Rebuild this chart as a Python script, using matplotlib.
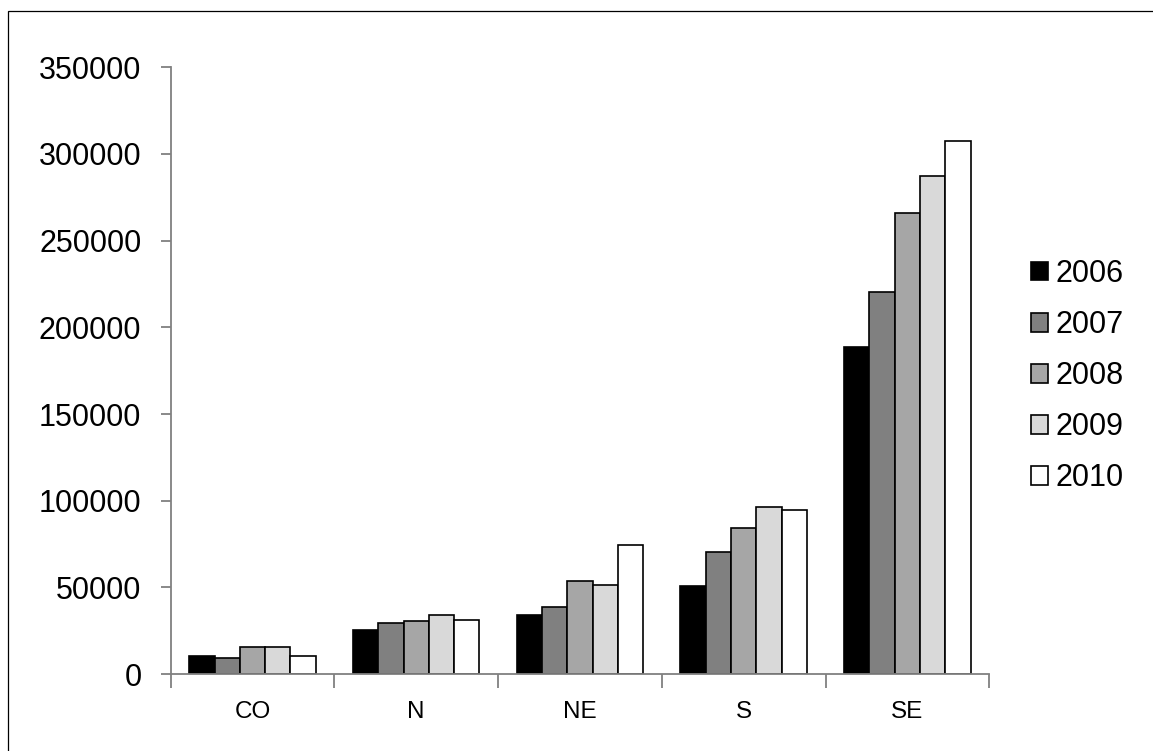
import matplotlib
matplotlib.use("Agg")
import matplotlib.pyplot as plt
import numpy as np
from matplotlib.patches import Rectangle

regions = ["CO", "N", "NE", "S", "SE"]
years = ["2006", "2007", "2008", "2009", "2010"]
v2006 = [10400, 25500, 34200, 50800, 188500]
v2007 = [9200, 29400, 38800, 70200, 220200]
v2008 = [15600, 30600, 53800, 84300, 266100]
v2009 = [15600, 34000, 51700, 96500, 287300]
v2010 = [10200, 31000, 74600, 94500, 307700]
colors = ["#000000", "#808080", "#a6a6a6", "#d9d9d9", "#ffffff"]

plt.rcParams['font.family'] = ['Liberation Sans', 'DejaVu Sans']

fig = plt.figure(figsize=(11.53, 7.51), dpi=100)
ax = fig.add_axes([0.148, 0.1023, 0.710, 0.8081])

series = [v2006, v2007, v2008, v2009, v2010]
x = np.arange(len(regions))
bw = 0.1545
for i, vals in enumerate(series):
    ax.bar(x + (i - 2) * bw, vals, bw, color=colors[i], edgecolor='black',
           linewidth=1.2, label=years[i], zorder=2)

ax.set_xlim(-0.5, len(regions) - 0.5)
ax.set_ylim(0, 350000)
ax.set_yticks(range(0, 350001, 50000))
ax.set_yticklabels([str(v) for v in range(0, 350001, 50000)])

# category labels at centres, tick marks at the boundaries
ax.set_xticks(x)
ax.set_xticklabels(regions)
ax.set_xticks(np.arange(-0.5, len(regions)), minor=True)
ax.tick_params(axis='x', which='major', length=0, pad=19, labelsize=17.5)
ax.tick_params(axis='x', which='minor', length=10, width=1.3, color='#808080')
ax.tick_params(axis='y', length=7, width=1.3, color='#808080', pad=14, labelsize=22)

for s in ['top', 'right']:
    ax.spines[s].set_visible(False)
for s in ['left', 'bottom']:
    ax.spines[s].set_color('#808080')
    ax.spines[s].set_linewidth(1.3)

leg = ax.legend(loc='center left', bbox_to_anchor=(0.894, 0.499),
                bbox_transform=fig.transFigure, frameon=False, fontsize=22,
                handlelength=0.55, handleheight=0.55, handletextpad=0.25,
                labelspacing=0.69, borderpad=0, borderaxespad=0)

# outer frame (only top and left edges fall inside the image)
fig.add_artist(Rectangle((8.3 / 1153, -0.2), 1.2, 1.2 - 10.7 / 751,
                         transform=fig.transFigure, fill=False,
                         edgecolor='black', linewidth=0.9))

fig.savefig("out.png", dpi=100)
